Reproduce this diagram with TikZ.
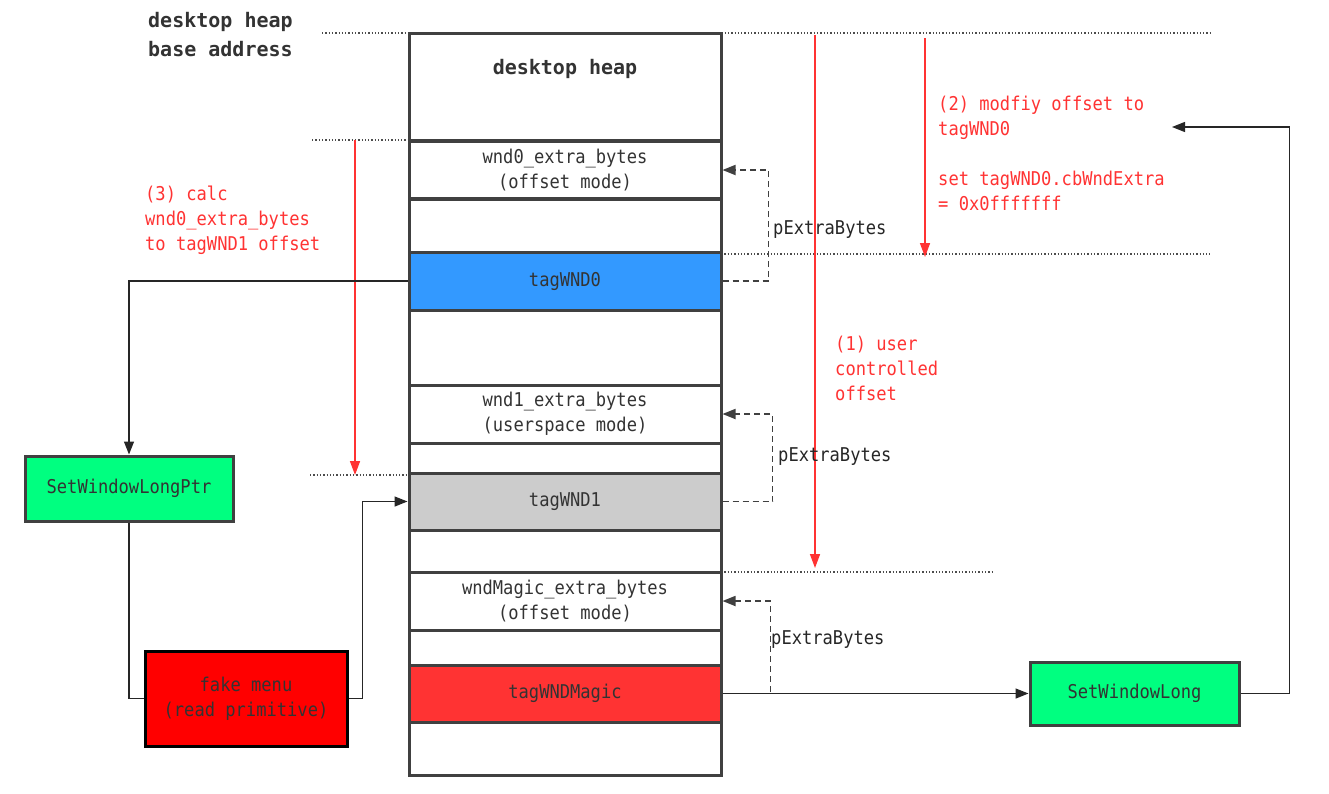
\documentclass[tikz,border=0pt]{standalone}
\usepackage{fontspec}
\newfontfamily\hei[FakeStretch=0.9]{DejaVu Sans Mono}
\newfontfamily\heib{DejaVu Sans Mono}
\usetikzlibrary{arrows.meta}
\definecolor{cblue}{HTML}{3399FF}
\definecolor{cgray}{HTML}{CCCCCC}
\definecolor{cred}{HTML}{FF3333}
\definecolor{cgreen}{HTML}{00FF80}
\definecolor{cfake}{HTML}{FF0000}
\definecolor{cborder}{HTML}{404040}
\definecolor{ctext}{HTML}{333333}
\definecolor{rtext}{HTML}{FF3333}
\tikzset{
  seg/.style={draw=cborder, line width=3pt, minimum width=312pt, inner sep=0pt,
    align=center, text=ctext, font=\hei\fontsize{19}{25}\selectfont},
  fbox/.style={draw=cborder, line width=3pt, inner sep=0pt, fill=cgreen,
    align=center, text=ctext, font=\hei\fontsize{19}{25}\selectfont},
  conn/.style={line width=1.4pt, draw=black!85, -{Triangle[length=13pt,width=10pt]}},
  plain/.style={line width=1.4pt, draw=black!85},
  dconn/.style={line width=1.8pt, draw=black!75, dash pattern=on 6pt off 4pt,
    -{Triangle[length=13pt,width=10pt]}},
  redarrow/.style={line width=1.5pt, draw=cred, -{Triangle[length=14pt,width=10pt]}},
  dotline/.style={line width=1.2pt, draw=black!70, dash pattern=on 1.3pt off 2pt},
  rlabel/.style={text=rtext, anchor=west, inner sep=0pt, font=\hei\fontsize{19}{25}\selectfont},
  blabel/.style={text=black!85, anchor=west, inner sep=0pt, font=\hei\fontsize{19}{25}\selectfont},
  boldlabel/.style={text=ctext, inner sep=0pt, font=\heib\bfseries\fontsize{20}{29}\selectfont}
}
\begin{document}
\begin{tikzpicture}[x=1pt,y=-1pt]
\useasboundingbox (0,0) rectangle (1329,793);
\fill[white] (0,0) rectangle (1329,793);

% dotted guide lines
\draw[dotline] (322,33) -- (1212,33);
\draw[dotline] (312,140) -- (409,140);
\draw[dotline] (721,254) -- (1210,254);
\draw[dotline] (310,475) -- (409,475);
\draw[dotline] (721,572) -- (993,572);

% heap column
\node[seg, minimum height=107pt] (h0) at (565,86.5) {};
\node[seg, minimum height=58pt] (e0) at (565,170) {wnd0\_extra\_bytes\\(offset mode)};
\node[seg, minimum height=54pt] (g1) at (565,225) {};
\node[seg, minimum height=58pt, fill=cblue] (w0) at (565,281) {tagWND0};
\node[seg, minimum height=75pt] (g2) at (565,347.5) {};
\node[seg, minimum height=58pt] (e1) at (565,414) {wnd1\_extra\_bytes\\(userspace mode)};
\node[seg, minimum height=30pt] (g3) at (565,458) {};
\node[seg, minimum height=57pt, fill=cgray] (w1) at (565,501.5) {tagWND1};
\node[seg, minimum height=42pt] (g4) at (565,551) {};
\node[seg, minimum height=58pt] (em) at (565,601) {wndMagic\_extra\_bytes\\(offset mode)};
\node[seg, minimum height=35pt] (g5) at (565,647.5) {};
\node[seg, minimum height=57pt, fill=cred] (wm) at (565,693.5) {tagWNDMagic};
\node[seg, minimum height=53pt] (g6) at (565,748.5) {};
\node[boldlabel] (htitle) at (565,69) {desktop heap};

% top-left label
\node[boldlabel, anchor=north west, align=left] (base) at (148,12) {desktop heap\\base address};

% function boxes
\node[fbox, minimum width=208pt, minimum height=65pt] (slp) at (129,488.5) {SetWindowLongPtr};
\node[fbox, minimum width=209pt, minimum height=63pt] (sl) at (1134.5,693.5) {SetWindowLong};
\node[fbox, draw=black, fill=cfake, minimum width=202pt, minimum height=95pt] (fm) at (246,698.5) {fake menu\\(read primitive)};

% red arrows
\coordinate (r3a) at (355,140); \coordinate (r3b) at (355,475);
\coordinate (r1a) at (815,35);  \coordinate (r1b) at (815,568);
\coordinate (r2a) at (925,38);  \coordinate (r2b) at (925,257);
\draw[redarrow] (r3a) -- (r3b);
\draw[redarrow] (r1a) -- (r1b);
\draw[redarrow] (r2a) -- (r2b);

% red texts
\node[rlabel, anchor=north west, align=left] (t3) at (145,186) {(3) calc\\wnd0\_extra\_bytes\\to tagWND1 offset};
\node[rlabel, anchor=north west, align=left] (t2) at (938,96) {(2) modfiy offset to\\tagWND0\\[25pt]set tagWND0.cbWndExtra\\= 0x0fffffff};
\node[rlabel, anchor=north west, align=left] (t1) at (835,336) {(1) user\\controlled\\offset};

% dashed pExtraBytes connectors
\draw[dconn] (w0.east) -- ++(46,0) |- (e0.east);
\draw[dconn] (w1.east) -- ++(50,0) |- (e1.east);
\draw[dconn] (wm.east) -- ++(48,0) |- (em.east);
\node[blabel] (p0) at (773,230) {pExtraBytes};
\node[blabel] (p1) at (778,457) {pExtraBytes};
\node[blabel] (p2) at (771,640) {pExtraBytes};

% black connectors
\draw[conn] (w0.west) -| (slp.north);
\draw[plain] (slp.south) |- (fm.west);
\draw[conn] (fm.east) -- ++(14,0) |- (w1.west);
\draw[conn] (wm.east) -- (sl.west);
\coordinate (tgt) at (1172,127);
\draw[conn] (sl.east) -- ++(49,0) |- (tgt);
\end{tikzpicture}
\end{document}
